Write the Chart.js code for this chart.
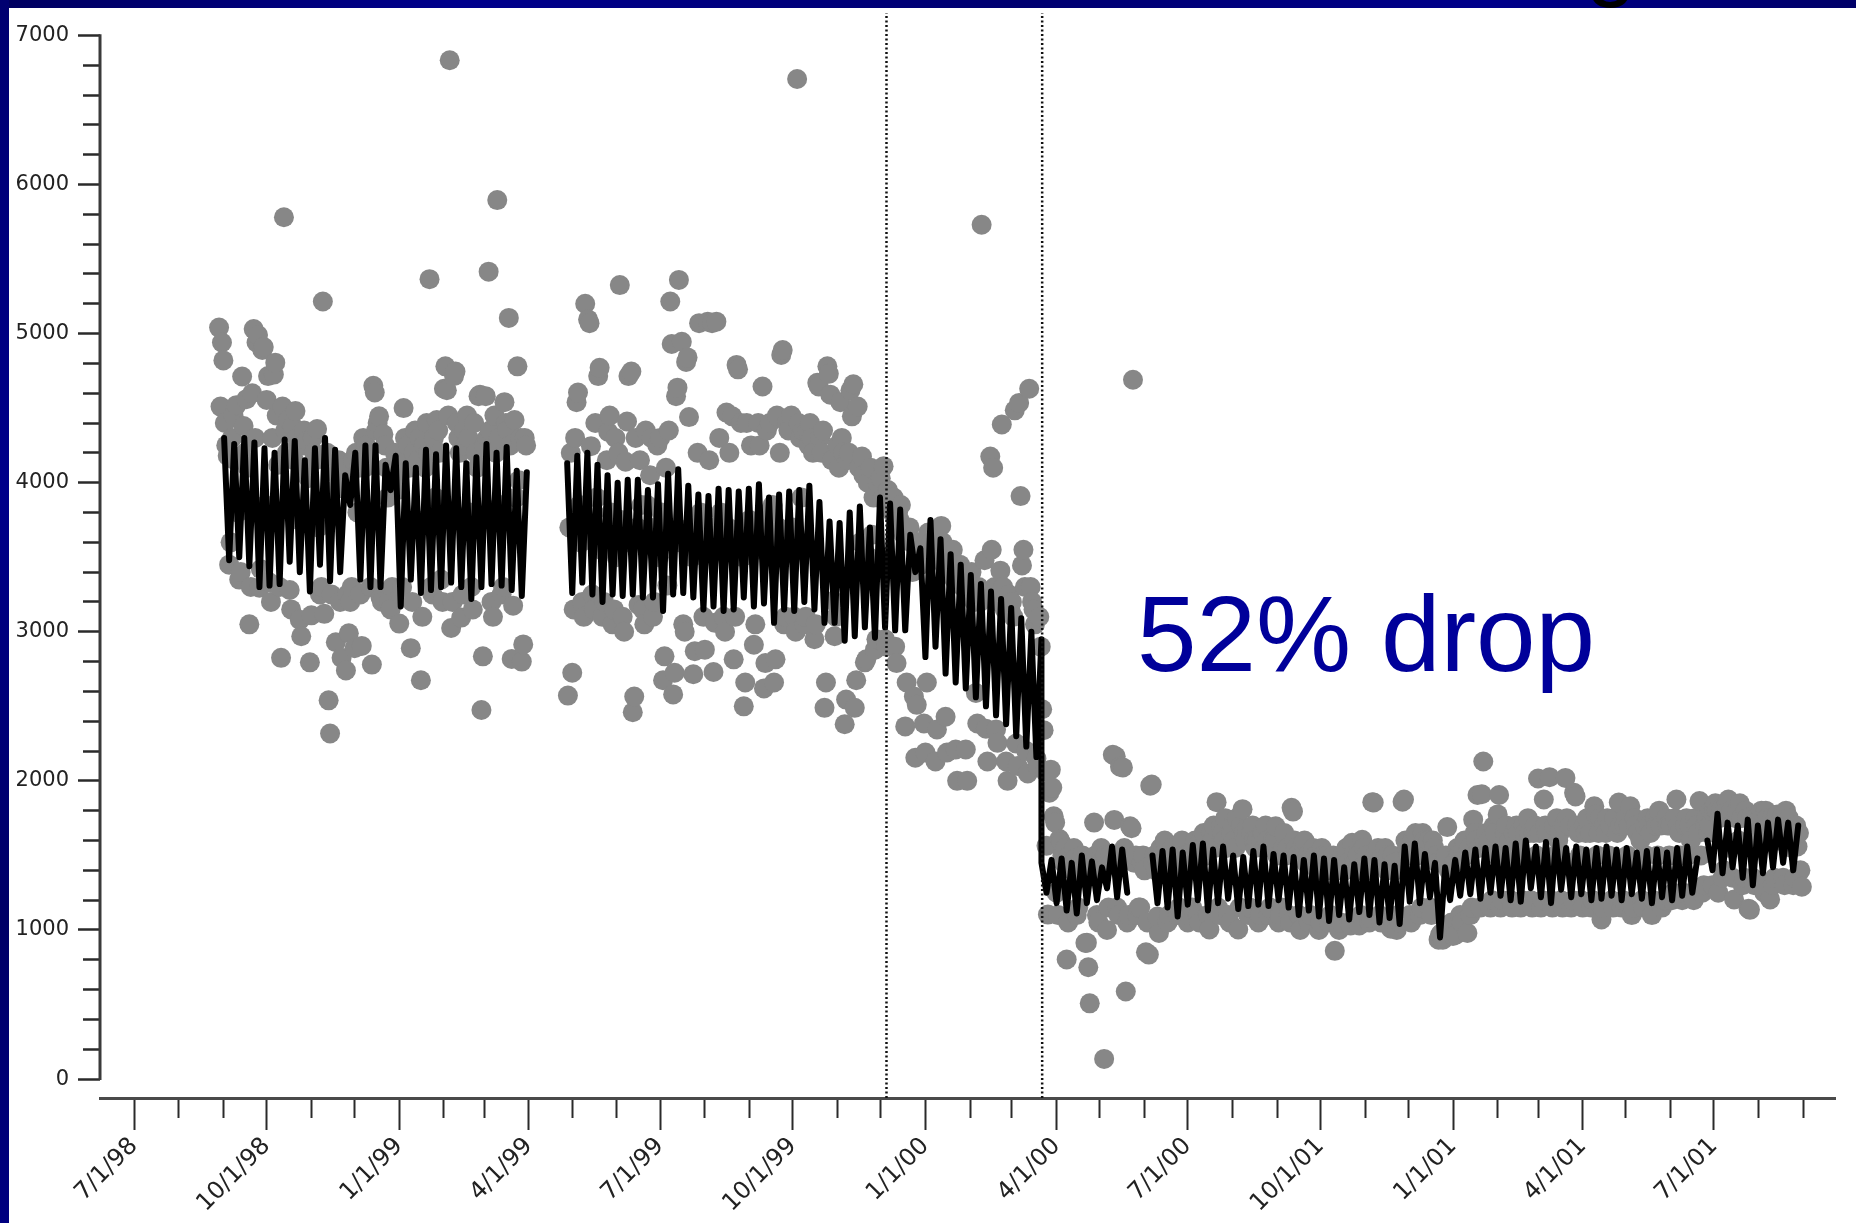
<!DOCTYPE html>
<html>
<head>
<meta charset="utf-8">
<script src="https://cdn.jsdelivr.net/npm/chart.js@4.4.1/dist/chart.umd.min.js"></script>
<style>
  html, body { margin: 0; padding: 0; background: #fff; overflow: hidden; }
  #wrap { position: relative; width: 1856px; height: 1223px; overflow: hidden; }
  #graph { position: absolute; left: 0; top: 0; }
  .band-top { position: absolute; left: 0; top: 0; width: 1856px; height: 8px;
    background: linear-gradient(90deg, #000060, #00008c 25%, #000070 55%, #00008a 80%, #000068); }
  .band-left { position: absolute; left: 0; top: 0; width: 9px; height: 1223px;
    background: linear-gradient(180deg, #000070, #00008a 40%, #000066 75%, #000080); }
  .title-tail { position: absolute; left: 1586px; top: -87px; font: 90px/90px "Liberation Sans", Arial, sans-serif; color: #000; }
  .drop { position: absolute; left: 1137px; top: 581px; font: 107px/107px "Liberation Sans", Arial, sans-serif;
    color: #00009a; white-space: nowrap; }
</style>
</head>
<body>
<div id="wrap">
  <canvas id="graph" width="1856" height="1223"></canvas>
  <div class="band-top"></div>
  <div class="band-left"></div>
  <div class="title-tail">g</div>
  <div class="drop">52% drop</div>
</div>
<script>
// days are counted from 7/1/98
const xTickLabels = ["7/1/98", "10/1/98", "1/1/99", "4/1/99", "7/1/99", "10/1/99", "1/1/00",
  "4/1/00", "7/1/00", "10/1/01", "1/1/01", "4/1/01", "7/1/01"];
const yLabelTicks = [0, 1000, 2000, 3000, 4000, 5000, 6000, 7000];
const markerDays = [522, 630];

// daily observations (grey dots)
const grayStartA = 59;
const grayA = [5040, 4510,
  4940, 4820, 4400, 4250, 4180, 3450, 3600,
  4300, 4450, 4150, 4520, 3800, 3350, 3400,
  4712, 4380, 4200, 4560, 4100, 3050, 3300,
  4600, 5030, 4300, 4940, 4990, 3295, 3420,
  4890, 4910, 3850, 4555, 4715, 3330, 3200,
  4300, 4725, 4805, 4450, 4120, 3300, 2825,
  4510, 5780, 4350, 4200, 4420, 3280, 3150,
  4380, 4150, 4480, 4300, 3750, 3080, 2970,
  4250, 4350, 4100, 4280, 4030, 2795, 3110,
  4300, 4200, 4150, 4360, 3700, 3250, 3300,
  5215, 3120, 4150, 4200, 2540, 2318, 3250,
  4100, 3950, 2930, 4050, 4150, 3200, 2825,
  4000, 4100, 2740, 3250, 2990, 3200, 3300,
  4150, 2890, 4200, 3800, 4100, 3250, 2905,
  4300, 4100, 4250, 4200, 4150, 3300, 2780,
  4650, 4605, 4350, 4400, 4445, 3230, 3200,
  4325, 4250, 4100, 3900, 3200, 3150, 3300,
  4100, 4200, 4050, 3950, 3055, 3250, 3300,
  4500, 4300, 4150, 4250, 4100, 2890, 3200,
  4200, 4350, 3750, 4150, 4300, 2675, 3100,
  4250, 4100, 4400, 4200, 5365, 3300, 3250,
  4300, 3900, 4420, 4350, 4200, 3350, 3200,
  4630, 4780, 4620, 4450, 6833, 3025, 3200,
  4715, 4745, 4400, 4300, 4200, 3095, 3250,
  4350, 4250, 4450, 4300, 3800, 3300, 3150,
  4400, 4200, 4100, 4580, 4590, 2475, 2835,
  4250, 4580, 4300, 5415, 4350, 3200, 3100,
  4450, 4200, 5895, 4300, 3850, 3250, 3300,
  4540, 4400, 4350, 5105, 4250, 2818, 3175,
  4420, 3900, 4780, 4016, 4300, 2800, 2915,
  4300, 4250];

const grayStartB = 301;
const grayB = [2572, 3700, 4200, 2725, 3150,
  4300, 4540, 4605, 3850, 3600, 3200, 3100,
  5200, 3700, 5095, 5070, 4245, 3250, 3150,
  4400, 3900, 4715, 4770, 3550, 3100, 3200,
  3650, 4150, 4340, 4450, 3800, 3050, 3150,
  4300, 3500, 4200, 5325, 3750, 3100, 3000,
  4140, 4410, 4715, 3600, 4745, 2460, 2565,
  4300, 3700, 3180, 4150, 3850, 3150, 3050,
  4350, 3850, 3600, 4050, 4300, 3100, 3200,
  3700, 4250, 3500, 4300, 3800, 2675, 2835,
  4100, 3310, 4350, 5215, 4930, 2580, 2725,
  4580, 4637, 5360, 3600, 4945, 3050, 3000,
  4810, 4840, 4440, 3700, 3500, 2715, 2870,
  3650, 4200, 5070, 3800, 3750, 3100, 2880,
  3600, 5080, 4150, 3700, 5070, 2730, 3060,
  5080, 3650, 4300, 3800, 3550, 3100, 3000,
  4470, 3700, 4200, 3600, 4445, 2815, 3100,
  4790, 4760, 3650, 4400, 3500, 2500, 2660,
  4400, 3600, 3750, 4250, 3700, 2913, 3050,
  3550, 4400, 4250, 3700, 4645, 2620, 2790,
  4350, 3800, 4400, 3600, 3850, 2660, 2815,
  4450, 3700, 4200, 4857, 4890, 3050, 3100,
  4400, 4350, 3650, 4450, 3700, 3100, 3000,
  6707, 4400, 4300, 3900, 4350, 3050, 3100,
  4350, 4250, 4400, 4300, 4200, 2950, 3050,
  4670, 4645, 4300, 4200, 4350, 2490, 2660,
  4780, 4730, 4590, 4150, 3207, 2970, 3100,
  4250, 4100, 4540, 4300, 4200, 2380, 2545,
  4150, 4200, 4620, 4445, 4660, 2490, 2675,
  4510, 4100, 3600, 4175, 4050, 2795, 2815,
  4000, 3500, 4100, 3650, 3900, 2880, 2950,
  4000, 3450, 4030, 3890, 4110, 2950, 2900,
  3950, 3900, 3850, 3800, 3900, 2900, 2790,
  3800, 3750, 3850, 3700, 3650, 2365, 2660,
  3650, 3700, 3600, 3400, 2565, 2155, 2510,
  3550, 3600, 3450, 3500, 2385, 2190, 2660,
  3665, 3575, 3600, 3550, 3500, 2130, 2345,
  3550, 3500, 3710, 3600, 3450, 2430, 2190,
  3500, 3450, 3400, 3550, 3350, 2210, 2000,
  3400, 3450, 3350, 3300, 3400, 2210, 2000,
  3350, 3300, 3400, 3250, 3200, 2590, 2385,
  3300, 3200, 5730, 3250, 3480, 2350, 2130,
  3250, 4175, 3550, 4100, 3300, 2345, 2255,
  3200, 3410, 4390, 3300, 3150, 2130, 2000,
  3250, 3150, 3200, 3100, 4485, 2250, 2100,
  4535, 3910, 3445, 3550, 3300, 2200, 2050,
  4630, 3300, 3200, 3150, 3050, 2150, 2095,
  3100, 2900,
  2480, 2340, 2063, 1564, 1103,
  1920, 2075, 1955, 1762, 1720, 1250, 1100,
  1610, 1590, 1500, 1450, 1550, 802, 1050,
  1500, 1450, 1400, 1550, 1480, 1100, 1150,
  1450, 1400, 1500, 1350, 913, 915, 750,
  508, 1400, 1450, 1720, 1500, 1100, 1050,
  1450, 1550, 1400, 135, 1500, 1000, 1150,
  1500, 1450, 2175, 1738, 2165, 1150, 1100,
  2095, 1500, 2090, 1550, 587, 1050, 1100,
  1695, 1683, 4690, 1450, 1500, 1100, 1150,
  1150, 1450, 1500, 1400, 850, 1050, 835,
  1968, 1975, 1450, 1500, 1400, 1090, 980,
  1550, 1500, 1450, 1600, 1480, 1050, 1100,
  1500, 1550, 1450, 1500, 1400, 1100, 1150,
  1550, 1600, 1500, 1450, 1500, 1050, 1100,
  1500, 1150, 1550, 1600, 1450, 1100, 1050,
  1600, 1550, 1650, 1500, 1500, 1100, 1003,
  1650, 1600, 1700, 1550, 1857, 1150, 1100,
  1700, 1650, 1600, 1750, 1550, 1100, 1050,
  1650, 1700, 1600, 1550, 1750, 1003, 1150,
  1700, 1810, 1650, 1600, 1683, 1100, 1150,
  1650, 1700, 1600, 1550, 1600, 1050, 1100,
  1600, 1650, 1550, 1700, 1600, 1100, 1150,
  1550, 1600, 1587, 1695, 1500, 1050, 1100,
  1150, 1550, 1650, 1500, 1550, 1100, 1050,
  1820, 1794, 1600, 1550, 1500, 1100, 1000,
  1550, 1500, 1600, 1450, 1500, 1050, 1100,
  1500, 1550, 1450, 1500, 1400, 1000, 1050,
  1550, 1500, 1450, 1400, 1500, 1050, 1100,
  1450, 1500, 860, 1400, 1450, 1000, 1050,
  1500, 1450, 1400, 1550, 1450, 1050, 1030,
  1585, 1500, 1450, 1400, 1500, 1030, 1100,
  1605, 1550, 1450, 1500, 1400, 1050, 1080,
  1857, 1855, 1500, 1450, 1550, 1100, 1050,
  1500, 1450, 1550, 1400, 1500, 1050, 1008,
  1500, 1450, 1400, 1000, 1100, 1050, 1080,
  1860, 1875, 1600, 1550, 1500, 1100, 1050,
  1600, 1550, 1650, 1500, 1550, 1100, 1150,
  1650, 1600, 1550, 1500, 1600, 1150, 1100,
  1600, 1550, 1500, 1450, 935, 968, 980,
  935, 1450, 1500, 1690, 1400, 1000, 1050,
  960, 1450, 968, 1550, 1500, 1100, 1050,
  1550, 1600, 1500, 980, 1550, 1100, 1150,
  1740, 1650, 1600, 1905, 1550, 1150, 1910,
  2130, 1600, 1650, 1550, 1600, 1150, 1200,
  1695, 1650, 1500, 1775, 1905, 1150, 1200,
  1600, 1650, 1700, 1450, 1600, 1200, 1150,
  1650, 1500, 1700, 1650, 1550, 1150, 1200,
  1700, 1650, 1450, 1750, 1650, 1200, 1150,
  1650, 1700, 1500, 2016, 1650, 1150, 1200,
  1875, 1700, 1650, 1450, 2025, 1200, 1150,
  1700, 1500, 1750, 1600, 1650, 1200, 1150,
  1700, 2020, 1750, 1450, 1700, 1150, 1200,
  1920, 1895, 1700, 1650, 1500, 1200, 1150,
  1700, 1650, 1750, 1450, 1650, 1150, 1200,
  1830, 1775, 1500, 1650, 1750, 1070, 1150,
  1700, 1650, 1750, 1500, 1700, 1200, 1150,
  1750, 1450, 1650, 1855, 1700, 1150, 1200,
  1700, 1750, 1500, 1700, 1830, 1100, 1150,
  1750, 1700, 1650, 1450, 1600, 1200, 1150,
  1700, 1500, 1750, 1700, 1650, 1100, 1200,
  1750, 1700, 1500, 1800, 1700, 1150, 1200,
  1200, 1750, 1700, 1500, 1700, 1200, 1250,
  1750, 1875, 1700, 1650, 1500, 1200, 1250,
  1700, 1750, 1500, 1700, 1600, 1250, 1200,
  1750, 1700, 1650, 1865, 1500, 1250, 1300,
  1700, 1750, 1650, 1700, 1800, 1300, 1820,
  1850, 1800, 1250, 1750, 1800, 1350, 1400,
  1800, 1850, 1875, 1550, 1800, 1350, 1205,
  1750, 1800, 1600, 1850, 1750, 1300, 1350,
  1800, 1750, 1143, 1135, 1760, 1350, 1300,
  1750, 1600, 1700, 1750, 1800, 1300, 1250,
  1800, 1750, 1700, 1205, 1750, 1300, 1350,
  1750, 1775, 1600, 1700, 1750, 1350, 1300,
  1800, 1700, 1750, 1650, 1550, 1300, 1350,
  1700, 1560, 1650, 1400, 1290];

// black line: weekday peak and weekend trough, one pair per week
const lineMondayA = 61;
const lineHighA = [4300, 4260, 4300, 4270, 4230, 4200, 4290, 4280, 4150, 4230, 4300, 4220, 4050,
  4200, 4250, 4250, 4120, 4180, 4130, 4100, 4220, 4190, 4250, 4230, 4130, 4170, 4260, 4200, 4240,
  4080, 4070];
const lineLowA = [3480, 3500, 3440, 3300, 3310, 3320, 3470, 3400, 3270, 3450, 3340, 3400, 3850,
  3350, 3300, 3300, 3950, 3170, 3350, 3260, 3280, 3300, 3330, 3300, 3220, 3300, 3320, 3310, 3280,
  3240];
const lineMondayB = 299;
const lineHighB = [4130, 4180, 4200, 4120, 4050, 4000, 4020, 4020, 3950, 3990, 4060, 4090, 3980,
  3920, 3910, 3960, 3950, 3940, 3960, 3990, 3900, 3920, 3940, 3950, 3980, 3870, 3740, 3730, 3800,
  3840, 3700, 3900, 3860, 3820, 3650, 3560, 3750, 3620, 3520, 3450, 3380, 3320, 3270, 3220, 3160,
  3090, 3000, 2950];
const lineLowB = [3260, 3330, 3250, 3200, 3250, 3240, 3250, 3230, 3230, 3140, 3250, 3260, 3230,
  3150, 3170, 3140, 3150, 3230, 3170, 3190, 3060, 3150, 3140, 3200, 3150, 3060, 3060, 2940, 2970,
  3030, 2960, 3030, 3010, 3010, 3400, 2830, 2900, 2720, 2660, 2620, 2560, 2500, 2440, 2380, 2300,
  2230, 2160];
const lineMondayC = 628;
const lineHighC = [1450, 1470, 1480, 1450, 1500, 1460, 1420, 1560, 1540];
const lineLowC = [1250, 1180, 1130, 1110, 1180, 1200, 1280, 1220, 1250];
const lineMondayD = 705;
const lineHighD = [1500, 1530, 1540, 1520, 1570, 1580, 1540, 1560, 1500, 1490, 1530, 1560, 1510,
  1500, 1490, 1470, 1500, 1480, 1470, 1420, 1440, 1480, 1470, 1440, 1430, 1560, 1580, 1510, 1450,
  1420, 1470, 1520, 1540, 1550, 1560, 1550, 1580, 1600, 1560, 1590, 1600, 1550, 1560, 1540, 1550,
  1560, 1540, 1550, 1520, 1530, 1540, 1520, 1550, 1560, 1480];
const lineLowD = [1180, 1150, 1090, 1170, 1200, 1130, 1180, 1210, 1140, 1160, 1170, 1160, 1200,
  1150, 1100, 1130, 1090, 1060, 1100, 1070, 1120, 1100, 1050, 1080, 1040, 1190, 1180, 1220, 950,
  1200, 1230, 1240, 1210, 1250, 1230, 1200, 1190, 1280, 1220, 1180, 1270, 1220, 1240, 1200, 1210,
  1230, 1200, 1240, 1210, 1180, 1220, 1200, 1230, 1250];
const lineMondayE = 1090;
const lineHighE = [1600, 1780, 1720, 1700, 1740, 1700, 1720, 1740, 1720, 1700];
const lineLowE = [1400, 1380, 1420, 1350, 1300, 1380, 1420, 1450, 1400];
// where in the week the peak and the trough sit (days after Monday)
const peakOffset = 1.5;
const troughOffset = 5;

const yMin = -127;
const yMax = 7150;

function toPoints(start, values) {
  return values.map((v, i) => ({ x: start + i, y: v }));
}

function weekLine(monday, highs, lows) {
  const pts = [];
  highs.forEach((h, w) => {
    pts.push({ x: monday + 7 * w + peakOffset, y: h });
    if (lows[w] !== undefined) pts.push({ x: monday + 7 * w + troughOffset, y: lows[w] });
  });
  return pts;
}

// one tick on the first of each month, 7/1/98 .. 9/1/01
const base = Date.UTC(1998, 6, 1);
const monthDays = [];
for (let m = 0; m <= 38; m++) {
  monthDays.push(Math.round((Date.UTC(1998, 6 + m, 1) - base) / 86400000));
}
const yTicks = [];
for (let v = yLabelTicks[0]; v <= yLabelTicks[yLabelTicks.length - 1]; v += 200) yTicks.push(v);

const grayPoints = toPoints(grayStartA, grayA).concat(toPoints(grayStartB, grayB));
const linePoints = [].concat(
  weekLine(lineMondayA, lineHighA, lineLowA), [{ x: 285, y: null }],
  weekLine(lineMondayB, lineHighB, lineLowB),
  weekLine(lineMondayC, lineHighC, lineLowC), [{ x: 698, y: null }],
  weekLine(lineMondayD, lineHighD, lineLowD), [{ x: 1088, y: null }],
  weekLine(lineMondayE, lineHighE, lineLowE)
);

const markerSets = markerDays.map(d => ({
  type: "line",
  data: [{ x: d, y: yMin }, { x: d, y: yMax }],
  borderColor: "#111",
  borderWidth: 2.5,
  borderDash: [2, 2.5],
  pointRadius: 0,
  showLine: true,
  order: 1
}));

// y axis line only spans 0..7000
const yAxisLine = {
  id: "yAxisLine",
  beforeDatasetsDraw(chart) {
    const y = chart.scales.y;
    const ctx = chart.ctx;
    const left = chart.chartArea.left;
    ctx.save();
    ctx.strokeStyle = "#3a3a3a";
    ctx.lineWidth = 3;
    ctx.beginPath();
    ctx.moveTo(left, y.getPixelForValue(yLabelTicks[0]) + 1);
    ctx.lineTo(left, y.getPixelForValue(yLabelTicks[yLabelTicks.length - 1]) - 1);
    ctx.stroke();
    ctx.restore();
  }
};

new Chart(document.querySelector("#graph"), {
  type: "scatter",
  data: {
    datasets: [
      ...markerSets,
      {
        label: "model",
        data: linePoints,
        showLine: true,
        borderColor: "#000",
        borderWidth: 6,
        borderJoinStyle: "round",
        borderCapStyle: "round",
        tension: 0,
        spanGaps: false,
        pointRadius: 0,
        order: 2
      },
      {
        label: "daily",
        data: grayPoints,
        backgroundColor: "#878787",
        borderColor: "#878787",
        borderWidth: 0,
        pointRadius: 10,
        pointHoverRadius: 10,
        order: 3
      }
    ]
  },
  options: {
    responsive: false,
    animation: false,
    devicePixelRatio: 1,
    layout: { padding: { top: 13, left: 0, right: 21, bottom: 0 } },
    plugins: { legend: { display: false }, tooltip: { enabled: false } },
    scales: {
      x: {
        type: "linear",
        min: -23.6,
        max: 1180,
        afterBuildTicks: (scale) => { scale.ticks = monthDays.map(v => ({ value: v })); },
        afterFit: (scale) => { scale.height = 125; },
        border: { display: true, color: "#4a4a4a", width: 3 },
        grid: {
          drawOnChartArea: false,
          drawTicks: true,
          tickLength: 32,
          tickWidth: 2,
          tickColor: "#2a2a2a",
          tickBorderDash: (ctx) => (ctx.index % 3 === 0 ? [] : [18, 200])
        },
        ticks: {
          autoSkip: false,
          minRotation: 45,
          maxRotation: 45,
          padding: 2,
          color: "#222",
          font: { family: "DejaVu Sans", size: 24 },
          callback: (value, index) => (index % 3 === 0 ? xTickLabels[index / 3] : "")
        }
      },
      y: {
        type: "linear",
        min: yMin,
        max: yMax,
        afterBuildTicks: (scale) => { scale.ticks = yTicks.map(v => ({ value: v })); },
        afterFit: (scale) => {
          scale.width = 100;
          scale.paddingTop = 0;
          scale.paddingBottom = 0;
        },
        border: { display: false },
        grid: {
          drawOnChartArea: false,
          drawTicks: true,
          tickLength: 22,
          tickWidth: 2.5,
          tickColor: "#2a2a2a",
          tickBorderDash: (ctx) => (ctx.tick && ctx.tick.value % 1000 === 0 ? [] : [0, 5, 17, 200])
        },
        ticks: {
          autoSkip: false,
          padding: 9,
          color: "#222",
          font: { family: "DejaVu Sans", size: 21 },
          callback: (value) => (value % 1000 === 0 ? String(value) : "")
        }
      }
    }
  },
  plugins: [yAxisLine]
});
</script>
</body>
</html>
